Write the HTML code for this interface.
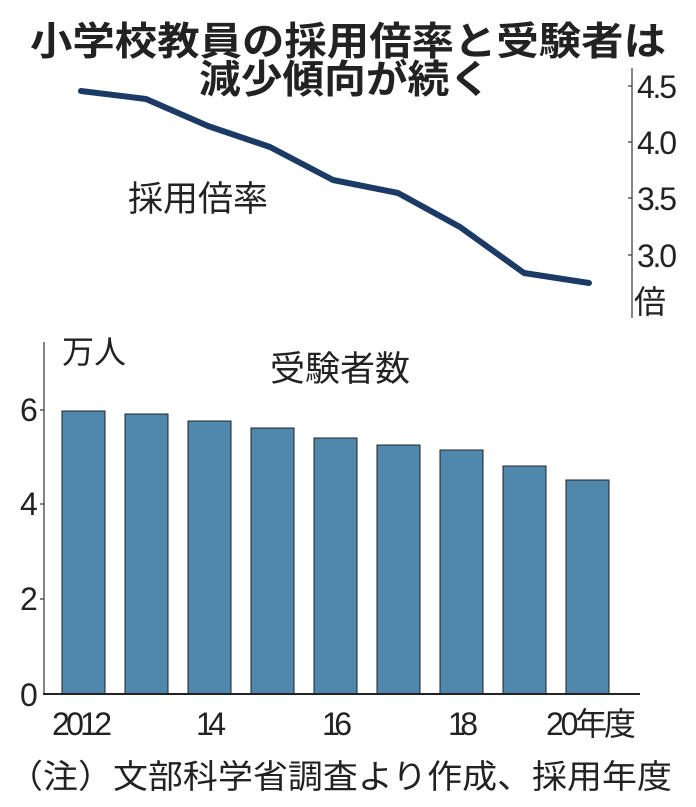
<!DOCTYPE html>
<html><head><meta charset="utf-8"><style>
body{margin:0;background:#fff;width:696px;height:807px;overflow:hidden}
svg{display:block}
text{font-family:"Liberation Sans","Noto Sans CJK JP",sans-serif;fill:#222}
</style></head><body>
<svg width="696" height="807" viewBox="0 0 696 807">
<text x="348" y="55" text-anchor="middle" font-size="39" font-weight="bold" textLength="636" lengthAdjust="spacingAndGlyphs">小学校教員の採用倍率と受験者は</text>
<text x="345" y="93" text-anchor="middle" font-size="39" font-weight="bold" textLength="292" lengthAdjust="spacingAndGlyphs">減少傾向が続く</text>
<line x1="632" y1="68" x2="632" y2="318" stroke="#333" stroke-width="1.2"/>
<g stroke="#333" stroke-width="1.2">
<line x1="628" y1="86" x2="632" y2="86"/><line x1="628" y1="142" x2="632" y2="142"/>
<line x1="628" y1="198" x2="632" y2="198"/><line x1="628" y1="255" x2="632" y2="255"/></g>
<g font-size="32" lengthAdjust="spacingAndGlyphs"><text x="637" y="98" textLength="40">4.5</text><text x="637" y="154" textLength="40">4.0</text><text x="637" y="210" textLength="40">3.5</text><text x="637" y="267" textLength="40">3.0</text></g>
<text x="634" y="313" font-size="32">倍</text>
<polyline points="81,91 146,99 208,126 270,147 333,180 398,193 460,227 524,273 589,283" fill="none" stroke="#1c3a66" stroke-width="6" stroke-linejoin="round" stroke-linecap="round"/>
<text x="128" y="211" font-size="35">採用倍率</text>
<line x1="44" y1="342" x2="44" y2="694" stroke="#333" stroke-width="1.2"/>
<g stroke="#333" stroke-width="1.2"><line x1="40" y1="410" x2="44" y2="410"/><line x1="40" y1="504" x2="44" y2="504"/><line x1="40" y1="599" x2="44" y2="599"/></g>
<g font-size="32" lengthAdjust="spacingAndGlyphs"><text x="20" y="421" textLength="16">6</text><text x="20" y="515" textLength="16">4</text><text x="20" y="610" textLength="16">2</text><text x="20" y="706" textLength="16">0</text></g>
<text x="62" y="363" font-size="32">万人</text>
<text x="270" y="381" font-size="35">受験者数</text>
<g fill="#4f87ad" stroke="#222" stroke-width="1">
<rect x="62" y="411" width="43" height="283"/>
<rect x="125" y="414" width="43" height="280"/>
<rect x="188" y="421" width="43" height="273"/>
<rect x="251" y="428" width="43" height="266"/>
<rect x="314" y="438" width="43" height="256"/>
<rect x="377" y="445" width="43" height="249"/>
<rect x="440" y="450" width="43" height="244"/>
<rect x="503" y="466" width="43" height="228"/>
<rect x="566" y="480" width="43" height="214"/>
</g>
<line x1="43" y1="694" x2="640" y2="694" stroke="#222" stroke-width="2"/>
<g font-size="32" lengthAdjust="spacingAndGlyphs"><text x="52" y="735" textLength="60">2012</text><text x="196" y="735" textLength="30">14</text><text x="322" y="735" textLength="30">16</text><text x="448" y="735" textLength="30">18</text><text x="546" y="735" textLength="90">20年度</text></g>
<text x="8" y="788" font-size="33" textLength="664" lengthAdjust="spacingAndGlyphs">（注）文部科学省調査より作成、採用年度</text>
</svg>
</body></html>
